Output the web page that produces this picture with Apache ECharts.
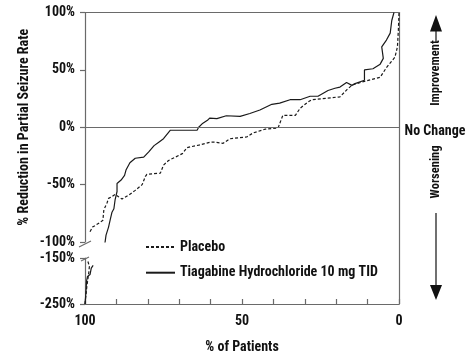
<!DOCTYPE html>
<html>
<head>
<meta charset="utf-8">
<script src="https://cdn.jsdelivr.net/npm/echarts@6/dist/echarts.min.js"></script>
<style>
html,body{margin:0;padding:0;background:#fff;}
#chart{width:473px;height:364px;}
</style>
</head>
<body>
<div id="chart"></div>
<script>
// ---- data ----
const seriesNames = ['Placebo', 'Tiagabine Hydrochloride 10 mg TID'];
const xTicksLabeled = [0, 50, 100];
const upperYTicks = [-100, -50, 0, 50, 100];
const lowerYTicks = [-250, -150];

const placeboPct = [100, 99.7, 99.4, 98.8, 98.6, 99.1, 96, 98.4, 97.6, 95.2, 94.3, 94, 93, 92.5, 91.5, 90.4, 89.3, 88.2, 86, 84, 81.8, 80.8, 80.3, 76, 75, 73.4, 71.2, 69, 67.5, 63.8, 60, 58.6, 56, 53.8, 48.5, 46.5, 42.7, 38.5, 37, 33, 31.5, 29, 27.8, 18.8, 16.5, 14.8, 11, 6, 4, 1.3, 0.5, 0.2, 0];
const placeboVal = [-250, -247, -211, -182, -168, -157, null, -91, -87, -83, -81, -72, -66, -62, -60.5, -58.5, -60.6, -62.6, -59, -55, -50, -43, -41, -40, -33, -29, -26, -23, -17.7, -15.6, -13, -13, -14, -10, -8.5, -5, -1.7, -0.6, 10.4, 10.4, 16.5, 22, 24, 26.5, 33, 37, 40, 43.5, 52, 61, 70, 85, 100];

const tiagabinePct = [100, 99.7, 99.5, 99.2, 98.4, 98, 97.4, 95.5, 93.8, 93.3, 92.5, 92, 91.4, 90.8, 90.4, 89.8, 89.8, 88.5, 87.4, 86.9, 85.7, 84, 81.3, 79.7, 78, 76.5, 75, 72.8, 64.3, 63.8, 62.7, 61, 60.3, 58, 55, 50.6, 47.5, 44.3, 40.5, 38, 34.7, 31.5, 28.3, 25.8, 22.6, 20.4, 18.8, 16.7, 15, 14, 11, 11, 8.3, 6, 5, 5.5, 4, 2.8, 2.3, 1.6];
const tiagabineVal = [-250, -225, -200, -190, -186, -172, -166, null, -104, -94, -87, -81, -74, -71, -63, -56, -49, -46, -42, -37, -31, -27, -26, -21.5, -16, -13, -10, -2.6, -2.6, 0, 3, 6, 8, 7.5, 10, 9.5, 12, 15, 20, 21, 24, 24, 27, 27, 32, 34, 35, 39, 36.5, 38, 41, 50, 51, 55, 60, 70, 76, 82, 93, 100];

function zip(xs, ys) { return xs.map((x, i) => [x, ys[i] === null ? '-' : ys[i]]); }
const placeboData = zip(placeboPct, placeboVal);
const tiagabineData = zip(tiagabinePct, tiagabineVal);

// ---- styles ----
const FONT = "'Roboto Condensed', 'Open Sans Condensed', 'Liberation Sans', sans-serif";
const AXIS = '#6a6a6a';
const INK = '#1a1a1a';
const txt = { color: '#111', fontFamily: FONT, fontWeight: 'bold', fontSize: 14 };

const chart = echarts.init(document.getElementById('chart'), null, { renderer: 'canvas' });

const gridL = 85, gridR = 74;

const lineBase = (name, dashed) => ({
  name: name,
  type: 'line',
  symbol: 'none',
  showSymbol: false,
  connectNulls: false,
  clip: true,
  animation: false,
  lineStyle: { color: INK, width: 1.2, type: dashed ? [3, 2] : 'solid' },
  itemStyle: { color: INK }
});

const option = {
  animation: false,
  backgroundColor: '#fff',
  textStyle: { fontFamily: FONT },
  grid: [
    { left: gridL, right: gridR, top: 12.5, height: 229.5 },
    { left: gridL, right: gridR, top: 258, height: 46 },
    { left: gridL, right: gridR, top: 12.5, height: 291.5 }
  ],
  xAxis: [
    { type: 'value', gridIndex: 0, min: 0, max: 100, inverse: true, position: 'top',
      axisLine: { show: true, onZero: false, lineStyle: { color: AXIS, width: 1.2 } },
      axisTick: { show: false }, axisLabel: { show: false }, splitLine: { show: false } },
    { type: 'value', gridIndex: 1, min: 0, max: 100, interval: 10, inverse: true, position: 'bottom',
      name: '% of Patients', nameLocation: 'middle', nameGap: 36, nameMoveOverlap: false,
      nameTextStyle: Object.assign({}, txt),
      axisLine: { show: true, onZero: false, lineStyle: { color: AXIS, width: 1.2 } },
      axisTick: { show: true, inside: true, length: 5, lineStyle: { color: AXIS, width: 1.2 } },
      axisLabel: Object.assign({ show: true, margin: 10, customValues: xTicksLabeled }, txt),
      splitLine: { show: false } },
    { type: 'value', gridIndex: 2, min: 0, max: 100, show: false }
  ],
  yAxis: [
    { type: 'value', gridIndex: 0, min: -100, max: 100, interval: 50, position: 'left',
      name: '% Reduction in Partial Seizure Rate', nameLocation: 'middle', nameGap: 54, nameMoveOverlap: false,
      nameTextStyle: Object.assign({}, txt),
      axisLine: { show: true, onZero: false, lineStyle: { color: AXIS, width: 1.2 } },
      axisTick: { show: true, length: 5, customValues: upperYTicks, lineStyle: { color: AXIS, width: 1.2 } },
      axisLabel: Object.assign({ margin: 10, formatter: '{value}%', customValues: upperYTicks }, txt),
      splitLine: { show: false } },
    { type: 'value', gridIndex: 1, min: -250, max: -150, interval: 50, position: 'left',
      axisLine: { show: true, onZero: false, lineStyle: { color: AXIS, width: 1.2 } },
      axisTick: { show: true, length: 5, customValues: lowerYTicks, lineStyle: { color: AXIS, width: 1.2 } },
      axisLabel: Object.assign({ margin: 10, formatter: '{value}%', customValues: lowerYTicks }, txt),
      splitLine: { show: false } },
    { type: 'value', gridIndex: 2, min: 0, max: 1, position: 'right',
      axisLine: { show: true, onZero: false, lineStyle: { color: AXIS, width: 1.2 } },
      axisTick: { show: false }, axisLabel: { show: false }, splitLine: { show: false } }
  ],
  legend: {
    data: seriesNames,
    orient: 'vertical',
    left: 145, top: 240, padding: 0,
    itemWidth: 29, itemHeight: 14, itemGap: 11.7,
    textStyle: Object.assign({}, txt),
    itemStyle: { color: 'rgba(0,0,0,0)', borderColor: 'rgba(0,0,0,0)', borderWidth: 0, opacity: 0 }
  },
  series: [
    Object.assign(lineBase(seriesNames[0], true), { xAxisIndex: 0, yAxisIndex: 0, data: placeboData }),
    Object.assign(lineBase(seriesNames[1], false), { xAxisIndex: 0, yAxisIndex: 0, data: tiagabineData,
      markLine: { silent: true, symbol: 'none', label: { show: false },
        lineStyle: { color: AXIS, width: 1.2, type: 'solid' }, data: [{ yAxis: 0 }] } }),
    Object.assign(lineBase(seriesNames[0], true), { xAxisIndex: 1, yAxisIndex: 1, data: placeboData }),
    Object.assign(lineBase(seriesNames[1], false), { xAxisIndex: 1, yAxisIndex: 1, data: tiagabineData })
  ],
  graphic: [
    // axis break marks
    { type: 'line', shape: { x1: 79, y1: 247, x2: 91, y2: 241 }, style: { stroke: AXIS, lineWidth: 1.2 } },
    { type: 'line', shape: { x1: 81, y1: 261, x2: 89, y2: 257 }, style: { stroke: AXIS, lineWidth: 1.2 } },
    // right annotations
    { type: 'polygon', shape: { points: [[436, 15], [430, 31.5], [442, 31.5]] }, style: { fill: '#111' } },
    { type: 'line', shape: { x1: 436, y1: 30, x2: 436, y2: 42 }, style: { stroke: '#111', lineWidth: 1.2 } },
    { type: 'text', x: 436, y: 73, rotation: Math.PI / 2,
      style: { text: 'Improvement', font: 'bold 12.5px ' + FONT, fill: '#111', align: 'center', verticalAlign: 'middle' } },
    { type: 'text', x: 435, y: 131.5,
      style: { text: 'No Change', font: 'bold 14px ' + FONT, fill: '#111', align: 'center', verticalAlign: 'middle' } },
    { type: 'text', x: 436, y: 172, rotation: Math.PI / 2,
      style: { text: 'Worsening', font: 'bold 12.5px ' + FONT, fill: '#111', align: 'center', verticalAlign: 'middle' } },
    { type: 'line', shape: { x1: 436, y1: 213, x2: 436, y2: 288 }, style: { stroke: '#111', lineWidth: 1.2 } },
    { type: 'polygon', shape: { points: [[436, 300], [430, 285], [442, 285]] }, style: { fill: '#111' } }
  ]
};
chart.setOption(option);
</script>
</body>
</html>
